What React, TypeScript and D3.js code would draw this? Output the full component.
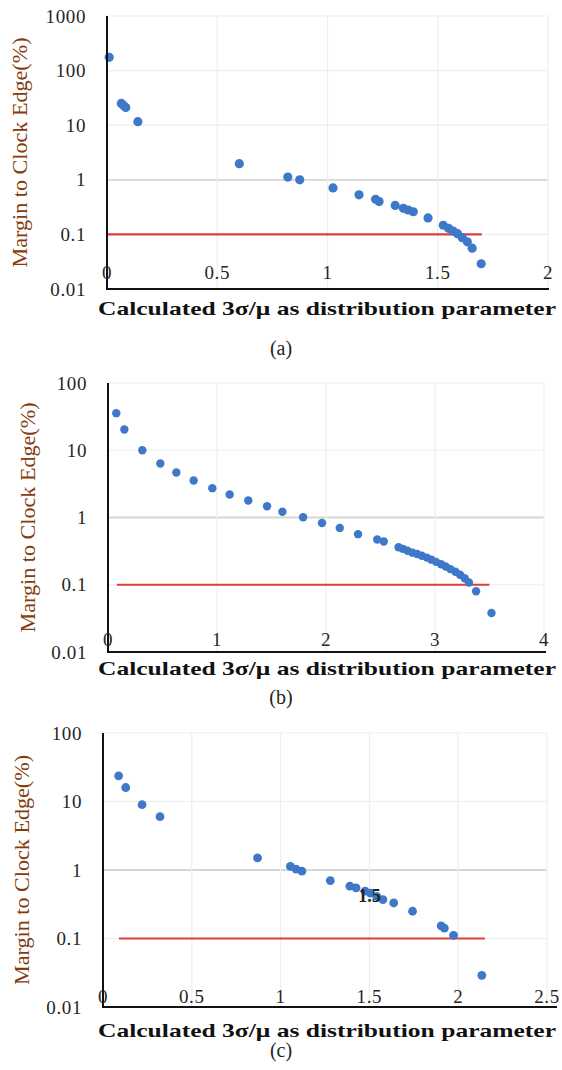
import * as d3 from "d3";

// panel (a)
const xA = [0.01, 0.065, 0.075, 0.085, 0.14, 0.6, 0.82, 0.874, 1.025, 1.143, 1.218, 1.234, 1.307, 1.344, 1.366, 1.389, 1.456, 1.525, 1.549, 1.57, 1.59, 1.611, 1.634, 1.656, 1.697];
const yA = [175, 25, 23, 21, 11.6, 1.97, 1.12, 1.0, 0.71, 0.53, 0.44, 0.4, 0.34, 0.3, 0.28, 0.26, 0.2, 0.147, 0.129, 0.115, 0.103, 0.087, 0.073, 0.056, 0.029];
// panel (b)
const xB = [0.076, 0.15, 0.315, 0.48, 0.627, 0.786, 0.957, 1.116, 1.287, 1.459, 1.6, 1.79, 1.963, 2.126, 2.294, 2.47, 2.53, 2.666, 2.705, 2.748, 2.793, 2.836, 2.879, 2.925, 2.967, 3.01, 3.056, 3.098, 3.141, 3.187, 3.23, 3.272, 3.311, 3.377, 3.518];
const yB = [35.6, 20.4, 10, 6.36, 4.68, 3.55, 2.73, 2.2, 1.79, 1.47, 1.22, 1.01, 0.83, 0.7, 0.565, 0.47, 0.44, 0.361, 0.342, 0.32, 0.3, 0.286, 0.27, 0.253, 0.236, 0.219, 0.202, 0.187, 0.171, 0.156, 0.141, 0.125, 0.108, 0.08, 0.038];
// panel (c)
const xC = [0.088, 0.128, 0.22, 0.321, 0.87, 1.055, 1.087, 1.12, 1.28, 1.39, 1.425, 1.476, 1.506, 1.542, 1.576, 1.637, 1.743, 1.904, 1.922, 1.974, 2.133];
const yC = [23.6, 16, 9.0, 6.0, 1.5, 1.13, 1.03, 0.96, 0.7, 0.58, 0.55, 0.49, 0.46, 0.41, 0.37, 0.33, 0.25, 0.153, 0.142, 0.111, 0.029];

const yTicksA = [0.01, 0.1, 1, 10, 100, 1000];
const yTicksBC = [0.01, 0.1, 1, 10, 100];
const xTicksA = [0, 0.5, 1, 1.5, 2];
const xTicksB = [0, 1, 2, 3, 4];
const xTicksC = [0, 0.5, 1, 1.5, 2, 2.5];

const limit = 0.1;
const limitA = [0, 1.7];
const limitB = [0.08, 3.5];
const limitC = [0.09, 2.15];

const xTitle = "Calculated 3σ/μ as distribution parameter";
const yTitle = "Margin to Clock Edge(%)";
const captions = ["(a)", "(b)", "(c)"];

const SERIF = "'Liberation Serif', 'DejaVu Serif', serif";

type Box = { left: number; right: number; top: number; bottom: number; axisEnd: number; xLab: number; yTitleX: number; titleY: number; capY: number };

function Panel(props: {
  xs: number[]; ys: number[]; xTicks: number[]; yTicks: number[]; span: number[];
  box: Box; caption: string; r: number; stray?: { x: number; y: number; text: string };
}) {
  const { xs, ys, xTicks, yTicks, span, box, caption, r, stray } = props;
  const x = d3.scaleLinear().domain([xTicks[0], xTicks[xTicks.length - 1]]).range([box.left, box.right]);
  const y = d3.scaleLog().domain([yTicks[0], yTicks[yTicks.length - 1]]).range([box.bottom, box.top]);
  const midY = (box.top + box.bottom) / 2;
  return (
    <g>
      {yTicks.slice(1).map((t) => (
        <line key={"h" + t} x1={box.left} x2={box.right} y1={y(t)} y2={y(t)}
          stroke={t === 1 ? "#d6d6d6" : "#eeeeee"} strokeWidth={t === 1 ? 1.8 : 1.2} />
      ))}
      {xTicks.slice(1).map((t) => (
        <line key={"v" + t} x1={x(t)} x2={x(t)} y1={box.top} y2={box.bottom} stroke="#eeeeee" strokeWidth={1.2} />
      ))}
      <line x1={x(span[0])} x2={x(span[1])} y1={y(limit)} y2={y(limit)} stroke="#d9403a" strokeWidth={2.2} />
      {xs.map((v, i) => (
        <circle key={i} cx={x(v)} cy={y(ys[i])} r={r} fill="#3f78c8" />
      ))}
      <line x1={box.left} x2={box.left} y1={box.top} y2={box.bottom + 1} stroke="#111" strokeWidth={2} />
      <line x1={box.left - 1} x2={box.axisEnd} y1={box.bottom} y2={box.bottom} stroke="#111" strokeWidth={2} />
      {yTicks.map((t) => (
        <text key={"yl" + t} x={box.left - 21} y={y(t)} dy="0.35em" textAnchor="end"
          fontFamily={SERIF} fontSize={19} letterSpacing={0.6} fill="#262626">{String(t)}</text>
      ))}
      {xTicks.map((t) => (
        <text key={"xl" + t} x={x(t)} y={box.xLab} dy="0.35em" textAnchor="middle"
          fontFamily={SERIF} fontSize={19} letterSpacing={0.6} fill="#262626">{String(t)}</text>
      ))}
      {stray && (
        <text x={x(stray.x)} y={y(stray.y)} dy="0.35em" textAnchor="middle" fontFamily={SERIF}
          fontSize={18} fontWeight="bold" fill="#222">{stray.text}</text>
      )}
      <text transform={`translate(${box.yTitleX},${midY}) rotate(-90)`} dy="0.35em" textAnchor="middle"
        fontFamily={SERIF} fontSize={20} textLength={230} lengthAdjust="spacingAndGlyphs" fill="#843c0c">{yTitle}</text>
      <text x={327} y={box.titleY} dy="0.35em" textAnchor="middle" fontFamily={SERIF} fontSize={19}
        fontWeight="bold" textLength={458} lengthAdjust="spacingAndGlyphs" fill="#111">{xTitle}</text>
      <text x={281} y={box.capY} dy="0.35em" textAnchor="middle" fontFamily={SERIF} fontSize={20} fill="#222">{caption}</text>
    </g>
  );
}

export default function App() {
  const W = 562, H = 1070;
  return (
    <svg width={W} height={H} viewBox={`0 0 ${W} ${H}`} style={{ position: "absolute", left: 0, top: 0, background: "#fff" }}>
      <Panel xs={xA} ys={yA} xTicks={xTicksA} yTicks={yTicksA} span={limitA} r={4.6} caption={captions[0]}
        box={{ left: 107, right: 548, top: 16, bottom: 289, axisEnd: 549, xLab: 272, yTitleX: 20, titleY: 308, capY: 348 }} />
      <Panel xs={xB} ys={yB} xTicks={xTicksB} yTicks={yTicksBC} span={limitB} r={4.2} caption={captions[1]}
        box={{ left: 108, right: 544, top: 383, bottom: 652, axisEnd: 546, xLab: 639, yTitleX: 28, titleY: 668, capY: 697 }} />
      <Panel xs={xC} ys={yC} xTicks={xTicksC} yTicks={yTicksBC} span={limitC} r={4.4} caption={captions[2]}
        stray={{ x: 1.5, y: 0.42, text: "1.5" }}
        box={{ left: 103, right: 547, top: 733, bottom: 1007, axisEnd: 557, xLab: 996, yTitleX: 22, titleY: 1030, capY: 1050 }} />
    </svg>
  );
}
